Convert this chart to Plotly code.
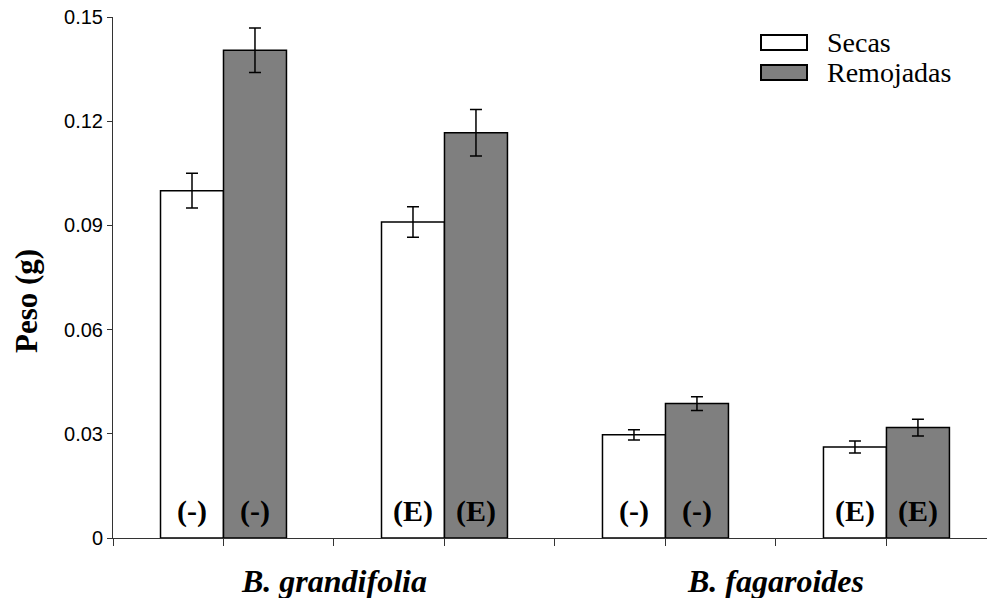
import plotly.graph_objects as go

# ---- data -------------------------------------------------------------
group_pos = [0.5, 1.5, 2.5, 3.5]            # centre of each pair of bars
treatments = ["(-)", "(E)", "(-)", "(E)"]  # label written inside each bar
species = ["B. grandifolia", "B. fagaroides"]
species_pos = [1.0, 3.0]

secas = [0.100, 0.091, 0.0297, 0.0262]
secas_err = [0.0050, 0.0044, 0.0015, 0.0017]
remojadas = [0.1404, 0.1167, 0.0387, 0.0318]
remojadas_err = [0.0064, 0.0067, 0.0020, 0.0024]

y_ticks = [0, 0.03, 0.06, 0.09, 0.12, 0.15]
y_tick_text = ["0", "0.03", "0.06", "0.09", "0.12", "0.15"]
x_ticks = [0, 0.5, 1, 1.5, 2, 2.5, 3, 3.5]

# ---- layout constants -------------------------------------------------
W, H = 987, 598
M_L, M_R, M_T, M_B = 113, 0, 17, 60
BARGAP = 0.43
SERIF = "Liberation Serif, Times New Roman, serif"
SANS = "Liberation Sans, Arial, sans-serif"
GREY = "#7f7f7f"
X_MAX = 3.955

plot_w = W - M_L - M_R
plot_h = H - M_T - M_B


def px_x(px):
    return (px - M_L) / plot_w


def px_y(py):
    return (H - M_B - py) / plot_h


fig = go.Figure()

err_style = dict(type="data", color="black", thickness=1.5, width=6)

fig.add_trace(go.Bar(
    name="Secas", x=group_pos, y=secas,
    marker=dict(color="white", line=dict(color="black", width=1.5)),
    error_y=dict(array=secas_err, **err_style),
))
fig.add_trace(go.Bar(
    name="Remojadas", x=group_pos, y=remojadas,
    marker=dict(color=GREY, line=dict(color="black", width=1.5)),
    error_y=dict(array=remojadas_err, **err_style),
))

annotations = []

# treatment labels near the base of each bar
half = (1 - BARGAP) / 4
for xc, lab in zip(group_pos, treatments):
    for dx in (-half, half):
        annotations.append(dict(
            x=xc + dx, y=0, xref="x", yref="y", text=f"<b>{lab}</b>",
            showarrow=False, yanchor="middle", yshift=27,
            font=dict(family=SERIF, size=30, color="black"),
        ))

# species names under the axis
for xc, sp in zip(species_pos, species):
    annotations.append(dict(
        x=xc, y=0, xref="x", yref="paper", text=f"<b><i>{sp}</i></b>",
        showarrow=False, yanchor="middle", yshift=-43,
        font=dict(family=SERIF, size=32, color="black"),
    ))

# y-axis title
annotations.append(dict(
    x=0, y=px_y(301), xref="paper", yref="paper", text="<b>Peso (g)</b>",
    textangle=-90, showarrow=False, xanchor="center", yanchor="middle",
    xshift=-87, font=dict(family=SERIF, size=31, color="black"),
))

# hand-drawn legend
shapes = []
legend_items = [("Secas", "white", 35, 50), ("Remojadas", GREY, 65, 80)]
for name, fill, top, bottom in legend_items:
    shapes.append(dict(
        type="rect", xref="paper", yref="paper",
        x0=px_x(761), x1=px_x(807), y0=px_y(bottom), y1=px_y(top),
        fillcolor=fill, line=dict(color="black", width=2),
    ))
    annotations.append(dict(
        x=px_x(825), y=px_y((top + bottom) / 2), xref="paper", yref="paper",
        text=name, showarrow=False, xanchor="left", yanchor="middle",
        font=dict(family=SERIF, size=28, color="black"),
    ))

fig.update_layout(
    width=W, height=H,
    margin=dict(l=M_L, r=M_R, t=M_T, b=M_B, pad=0),
    paper_bgcolor="white", plot_bgcolor="white",
    barmode="group", bargap=BARGAP, bargroupgap=0,
    showlegend=False,
    annotations=annotations, shapes=shapes,
    xaxis=dict(
        range=[0, X_MAX], tickvals=x_ticks, ticktext=[""] * len(x_ticks),
        ticks="outside", ticklen=7, tickwidth=1, tickcolor="#333",
        showline=True, linecolor="#333", linewidth=1,
        showgrid=False, zeroline=False,
    ),
    yaxis=dict(
        range=[0, 0.15], tickvals=y_ticks, ticktext=y_tick_text,
        ticks="outside", ticklen=5, tickwidth=1, tickcolor="#333",
        showline=True, linecolor="#333", linewidth=1,
        showgrid=False, zeroline=False,
        tickfont=dict(family=SANS, size=20, color="black"),
    ),
)

fig.write_html("out.html")
